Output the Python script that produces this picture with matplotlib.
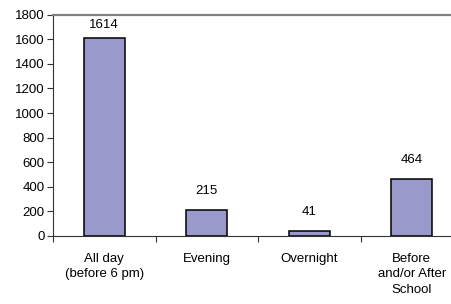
import matplotlib

matplotlib.use("Agg")
import matplotlib.pyplot as plt
import numpy as np

categories = ["All day\n(before 6 pm)", "Evening", "Overnight", "Before\nand/or After\nSchool"]
values = [1614, 215, 41, 464]
yticks = [0, 200, 400, 600, 800, 1000, 1200, 1400, 1600, 1800]
YMAX = 1800

BAR = "#9999cc"

plt.rcParams.update({
    "font.family": ["Liberation Sans", "DejaVu Sans"],
    "font.size": 9.5,
})

fig = plt.figure(figsize=(4.51, 3.04), dpi=100)
ax = fig.add_axes([53 / 451, 1 - 236 / 304, 410 / 451, (236 - 14.7) / 304])

x = np.arange(len(categories))
ax.bar(x, values, width=0.4, color=BAR, edgecolor="black", linewidth=1.1, zorder=3)
ax.set_xlim(-0.5, len(categories) - 0.5)
ax.set_ylim(0, YMAX)
ax.set_yticks(yticks)
ax.set_yticklabels([str(v) for v in yticks])

# value labels above bars, kept inside the plot area like Excel does
for xi, v in zip(x, values):
    ly = min(v + 0.086 * YMAX, YMAX - 0.046 * YMAX)
    ax.text(xi, ly, str(v), ha="center", va="center", fontsize=9.5)

# category boundary ticks, labels centred under bars
ax.set_xticks(np.arange(-0.5, len(categories) + 0.5, 1))
ax.set_xticklabels([])
ax.tick_params(axis="x", direction="out", length=4, width=0.8, color="#333333")
ax.tick_params(axis="y", direction="out", length=4, width=0.8, color="#333333", pad=2)
for xi, lab in zip(x, categories):
    ax.text(xi, -0.075, lab, transform=ax.get_xaxis_transform(), ha="center",
            va="top", fontsize=9.5, linespacing=1.4)

ax.spines["right"].set_visible(False)
ax.spines["top"].set_color("#808080")
ax.spines["top"].set_linewidth(1.6)
ax.spines["left"].set_color("#333333")
ax.spines["bottom"].set_color("#333333")
ax.spines["left"].set_linewidth(0.8)
ax.spines["bottom"].set_linewidth(0.8)

fig.savefig("out.png", dpi=100, facecolor="white")
